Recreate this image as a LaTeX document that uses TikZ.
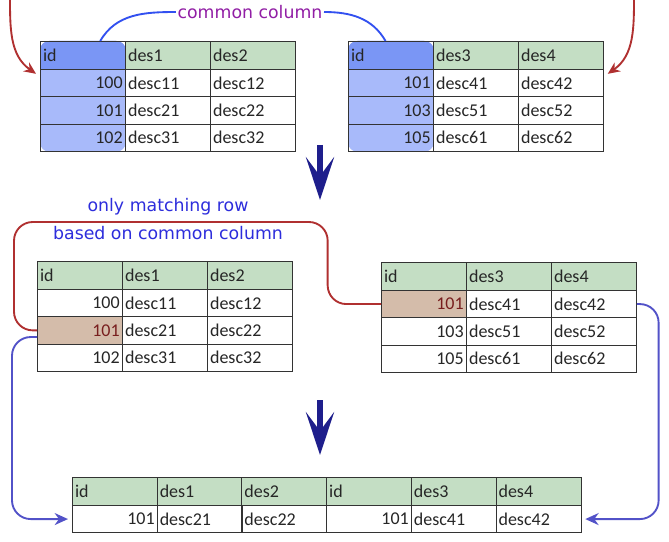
\documentclass[tikz,border=0pt]{standalone}
\usepackage{fontspec}
\setmainfont{Carlito}
\newfontfamily\labelfont{DejaVu Sans}
\usetikzlibrary{arrows.meta,backgrounds,calc}

\definecolor{headgreen}{RGB}{196,222,196}
\definecolor{colhead}{RGB}{122,150,245}
\definecolor{colbody}{RGB}{168,186,250}
\definecolor{matchfill}{RGB}{212,188,170}
\definecolor{matchtext}{RGB}{120,30,30}
\definecolor{redline}{RGB}{176,48,48}
\definecolor{bluepath}{RGB}{82,82,200}
\definecolor{brightblue}{RGB}{50,80,240}
\definecolor{navy}{RGB}{30,30,140}
\definecolor{purplelabel}{RGB}{145,30,165}
\definecolor{matchlabel}{RGB}{45,45,220}

\tikzset{
  cell/.style={draw=black!80, line width=0.6pt, anchor=north west, inner xsep=2pt,
    inner ysep=0pt, text width=59.75pt, minimum height=20.5pt, font=\fontsize{13.5}{15}\selectfont,
    text=black!85},
  headcell/.style={cell, fill=headgreen, align=left, minimum height=21pt},
  idcell/.style={cell, align=right},
  desccell/.style={cell, align=left},
  matchcell/.style={idcell, fill=matchfill, text=matchtext},
  redarrow/.style={draw=redline, line width=1.4pt},
  bluearrow/.style={draw=bluepath, line width=1.4pt},
  commonline/.style={draw=brightblue, line width=1.4pt},
  downarrow/.style={draw=navy, line width=5pt, -{Stealth[length=32pt,width=21pt,inset=14pt]}},
  textlabel/.style={font=\labelfont\fontsize{13}{15}\selectfont, inner sep=1pt}
}

% #1 name, #2 x, #3 y, #4 extra key of the id header, #5 other headers, #6 rows
\newcommand{\jointable}[6]{%
  \node[headcell,#4] (#1-0-1) at (#2,#3) {id};
  \foreach \h [count=\i from 2] in {#5}
    \node[headcell] (#1-0-\i) at ({#2+(\i-1)*85},#3) {\h};
  \foreach \n/\p/\q/\s [count=\r] in {#6} {
    \node[\s] (#1-\r-1) at (#2,{#3+28+(\r-1)*27.3}) {\n};
    \node[desccell] (#1-\r-2) at ({#2+85},{#3+28+(\r-1)*27.3}) {\p};
    \node[desccell] (#1-\r-3) at ({#2+170},{#3+28+(\r-1)*27.3}) {\q};
  }
}

\begin{document}
\begin{tikzpicture}[x=0.75pt,y=-0.75pt]
  \useasboundingbox (0,0) rectangle (669,542);

  % the two tables on top
  \jointable{t1}{40}{41}{fill=none}{des1,des2}
    {100/desc11/desc12/idcell,101/desc21/desc22/idcell,102/desc31/desc32/idcell}
  \jointable{t2}{348}{41}{fill=none}{des3,des4}
    {101/desc41/desc42/idcell,103/desc51/desc52/idcell,105/desc61/desc62/idcell}

  % the same tables, matching row marked
  \jointable{t3}{37}{261}{}{des1,des2}
    {100/desc11/desc12/idcell,101/desc21/desc22/matchcell,102/desc31/desc32/idcell}
  \jointable{t4}{381}{262}{}{des3,des4}
    {101/desc41/desc42/matchcell,103/desc51/desc52/idcell,105/desc61/desc62/idcell}

  % joined table
  \foreach \h [count=\i] in {id,des1,des2,id,des3,des4}
    \node[headcell] (t5-0-\i) at ({72+(\i-1)*84.7},477) {\h};
  \foreach \v/\s [count=\i] in {101/idcell,desc21/desccell,desc22/desccell,101/idcell,desc41/desccell,desc42/desccell}
    \node[\s] (t5-1-\i) at ({72+(\i-1)*84.7},505) {\v};

  % page and common column shading
  \begin{scope}[on background layer]
    \fill[white] (0,0) rectangle (669,542);
    \foreach \t in {t1,t2} {
      \fill[colbody, rounded corners=7pt] (\t-0-1.north west) rectangle (\t-3-1.south east);
      \fill[colhead, rounded corners=7pt] (\t-0-1.north west) rectangle (\t-0-1.south east);
      \fill[colhead] (\t-0-1.west) rectangle (\t-0-1.south east);
    }
  \end{scope}

  % labels
  \node[textlabel, text=purplelabel] (cc) at (250,12) {common column};
  \node[textlabel, text=matchlabel] (m1) at (168,207) {only matching row};
  \node[textlabel, text=matchlabel] (m2) at (168,233) {based on common column};

  \draw[commonline] ([xshift=13pt]t1-0-1.north) to[out=60,in=180] (cc.west);
  \draw[commonline] (cc.east) to[out=0,in=120] ([xshift=-4pt]t2-0-1.north);

  % red arrows into the top tables
  \coordinate (r1) at (10,-5);
  \coordinate (r2) at (634,-5);
  \draw[redarrow, -{Stealth[length=9pt,width=8pt]}] (r1) to[out=-90,in=145] ([xshift=-3pt,yshift=-3pt]t1-0-1.south west);
  \draw[redarrow, -{Stealth[length=9pt,width=8pt]}] (r2) to[out=-90,in=35] ([xshift=3pt,yshift=-3pt]t2-0-3.south east);

  % down arrows
  \coordinate (d1) at (320,145);
  \coordinate (d2) at (320,200);
  \coordinate (d3) at (320,400);
  \coordinate (d4) at (320,455);
  \draw[downarrow] (d1) -- (d2);
  \draw[downarrow] (d3) -- (d4);

  % matching row link
  \draw[redarrow, rounded corners=14pt] (t3-2-1.west) -| (14,222)
    -| ([xshift=-40pt]t4-1-1.west) -- (t4-1-1.west);

  % rows into the joined table
  \draw[bluearrow, rounded corners=14pt, -{Stealth[length=10pt,width=9pt]}, shorten >=3pt]
    ([yshift=-5pt]t3-2-1.west) -| ([xshift=-45pt]t5-1-1.west) -- (t5-1-1.west);
  \draw[bluearrow, rounded corners=14pt, -{Stealth[length=10pt,width=9pt]}, shorten >=3pt]
    (t4-1-3.east) -| ([xshift=58pt]t5-1-6.east) -- (t5-1-6.east);
\end{tikzpicture}
\end{document}
